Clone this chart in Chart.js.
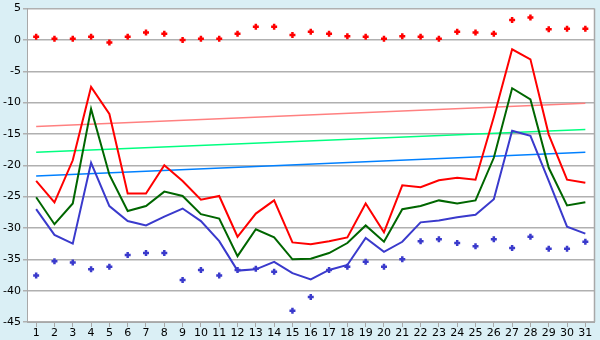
<!DOCTYPE html>
<html>
<head>
<meta charset="utf-8">
<script src="https://cdn.jsdelivr.net/npm/chart.js@4/dist/chart.umd.min.js"></script>
<style>
  html, body { margin: 0; padding: 0; background: #daeff5; }
  #wrap { width: 600px; height: 340px; }
</style>
</head>
<body>
<div id="wrap"><canvas id="mychart" width="600" height="340"></canvas></div>
<script>
// --- data ---
const days = ['1','2','3','4','5','6','7','8','9','10','11','12','13','14','15','16','17','18','19','20','21','22','23','24','25','26','27','28','29','30','31'];

const redLine = [-22.5, -25.9, -19.2, -7.5, -11.8, -24.5, -24.5, -20.0, -22.5, -25.5, -24.9, -31.4, -27.7, -25.6, -32.3, -32.6, -32.1, -31.5, -26.1, -30.7, -23.2, -23.5, -22.4, -22.0, -22.3, -12.3, -1.5, -3.1, -15.1, -22.3, -22.8];
const greenLine = [-25.1, -29.4, -26.1, -11.0, -21.5, -27.3, -26.5, -24.2, -24.9, -27.8, -28.5, -34.5, -30.2, -31.5, -35.0, -34.9, -34.0, -32.4, -29.6, -32.2, -27.0, -26.5, -25.6, -26.1, -25.6, -18.8, -7.7, -9.5, -20.4, -26.4, -25.9];
const blueLine = [-27.0, -31.1, -32.5, -19.6, -26.5, -28.9, -29.6, -28.2, -26.9, -28.9, -32.1, -36.8, -36.6, -35.4, -37.2, -38.2, -36.7, -35.9, -31.6, -33.8, -32.2, -29.1, -28.8, -28.3, -27.9, -25.4, -14.5, -15.3, -22.5, -29.8, -30.9];

const redPoints = [0.5, 0.2, 0.2, 0.5, -0.4, 0.5, 1.2, 1.0, 0.0, 0.2, 0.2, 1.0, 2.1, 2.1, 0.8, 1.3, 1.0, 0.6, 0.5, 0.2, 0.6, 0.5, 0.2, 1.3, 1.2, 1.0, 3.2, 3.6, 1.7, 1.8, 1.8];
const bluePoints = [-37.6, -35.3, -35.5, -36.6, -36.2, -34.3, -34.0, -34.0, -38.3, -36.7, -37.6, -36.7, -36.5, -37.0, -43.2, -41.0, -36.7, -36.2, -35.4, -36.2, -35.0, -32.1, -31.8, -32.4, -32.9, -31.8, -33.2, -31.4, -33.3, -33.3, -32.2];

// trend lines: start (day 1) and end (day 31)
const trendDays = ['1', '31'];
const pinkTrend = [-13.8, -10.1];
const greenTrend = [-17.9, -14.3];
const blueTrend = [-21.7, -17.9];

const yTicks = [5, 0, -5, -10, -15, -20, -25, -30, -35, -40, -45];

function trendData(vals) {
  return trendDays.map((d, i) => ({ x: d, y: vals[i] }));
}

function lineSet(data, color) {
  return { data: data, borderColor: color, borderWidth: 2, pointRadius: 0, fill: false, tension: 0 };
}
function markSet(data, color) {
  return { data: data, showLine: false, borderColor: color, backgroundColor: color,
    pointStyle: 'cross', pointRadius: 3, borderWidth: 2.5, pointHoverRadius: 3 };
}
function trendSet(vals, color) {
  return { data: trendData(vals), borderColor: color, borderWidth: 1.5, pointRadius: 0, fill: false, tension: 0 };
}

// white plot area + grey right border
const plotBg = {
  id: 'plotBg',
  beforeDraw(c) {
    const a = c.chartArea, ctx = c.ctx;
    ctx.save();
    ctx.fillStyle = '#ffffff';
    ctx.fillRect(a.left, a.top, a.right - a.left, a.bottom - a.top);
    ctx.restore();
  },
  afterDraw(c) {
    const a = c.chartArea, ctx = c.ctx;
    ctx.save();
    ctx.strokeStyle = '#a8a8a8';
    ctx.lineWidth = 1.5;
    ctx.beginPath();
    ctx.moveTo(a.right, a.top);
    ctx.lineTo(a.right, a.bottom);
    ctx.stroke();
    ctx.restore();
  }
};

const chart = document.getElementById('mychart').getContext('2d');
const myChart = new Chart(chart, {
  type: 'line',
  data: {
    labels: days,
    datasets: [
      markSet(redPoints, '#ff0000'),
      markSet(bluePoints, '#3a3acc'),
      lineSet(redLine, '#ff0000'),
      lineSet(greenLine, '#006600'),
      lineSet(blueLine, '#3a3acc'),
      trendSet(pinkTrend, '#ff8080'),
      trendSet(greenTrend, '#00ff80'),
      trendSet(blueTrend, '#0080ff')
    ]
  },
  options: {
    responsive: false,
    animation: false,
    layout: { padding: { top: 5, right: 5, left: 0, bottom: 0 } },
    plugins: { legend: { display: false }, tooltip: { enabled: false } },
    scales: {
      x: {
        type: 'category',
        offset: true,
        grid: { display: true, drawOnChartArea: false, drawTicks: true, tickLength: 5, color: '#a8a8a8' },
        border: { color: '#a8a8a8', width: 1 },
        ticks: { color: '#000', font: { family: 'DejaVu Sans', size: 11 }, padding: 0, maxRotation: 0, autoSkip: false },
        afterFit(s) { s.height = 18; }
      },
      y: {
        min: -45, max: 5,
        grid: { color: '#b0b0b0', lineWidth: 1.5, tickLength: 4 },
        border: { color: '#a8a8a8', width: 1 },
        afterBuildTicks(s) { s.ticks = yTicks.map(v => ({ value: v })); },
        ticks: { color: '#000', font: { family: 'DejaVu Sans', size: 11 }, padding: 2 },
        afterFit(s) { s.width = 27; }
      }
    }
  },
  plugins: [plotBg]
});
</script>
</body>
</html>
